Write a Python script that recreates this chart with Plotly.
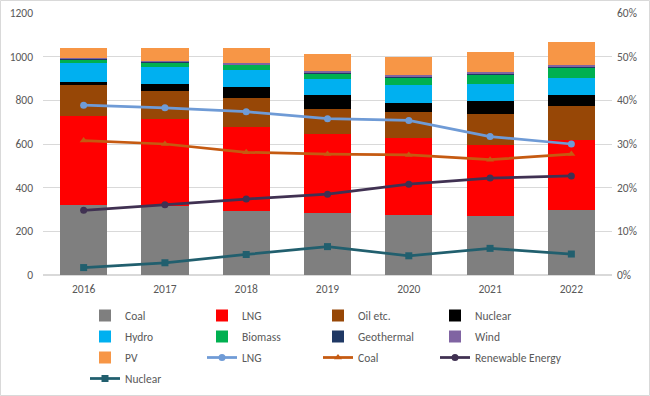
import plotly.graph_objects as go

years = ["2016", "2017", "2018", "2019", "2020", "2021", "2022"]

# Stacked generation values (bars, left axis)
coal = [321, 316, 295, 283, 275, 271, 298]
lng = [408, 399, 385, 364, 353, 325, 321]
oil = [139, 128, 130, 113, 120, 141, 156]
nuclear = [18, 30, 49, 64, 41, 61, 49]
hydro = [84, 78, 80, 75, 79, 79, 78]
biomass = [18, 23, 24, 26, 37, 42, 49]
geothermal = [2, 2, 2, 3, 3, 3, 3]
wind = [4, 5, 7, 8, 6, 9, 9]
pv = [46, 57, 66, 77, 85, 91, 104]

# Shares (lines, right axis)
share_lng = [0.389, 0.383, 0.374, 0.358, 0.354, 0.317, 0.300]
share_coal = [0.308, 0.300, 0.281, 0.277, 0.275, 0.264, 0.277]
share_ren = [0.148, 0.161, 0.174, 0.185, 0.208, 0.222, 0.227]
share_nuc = [0.017, 0.028, 0.047, 0.065, 0.044, 0.061, 0.048]

FONT = "Carlito, Calibri, Liberation Sans, Arial, sans-serif"
TXT = "#595959"
FS = 11.5

fig = go.Figure()

bars = [
    ("Coal", coal, "#7f7f7f", "legend"),
    ("LNG", lng, "#ff0000", "legend2"),
    ("Oil etc.", oil, "#974706", "legend3"),
    ("Nuclear", nuclear, "#000000", "legend4"),
    ("Hydro", hydro, "#00b0f0", "legend"),
    ("Biomass", biomass, "#00b050", "legend2"),
    ("Geothermal", geothermal, "#1f3864", "legend3"),
    ("Wind", wind, "#8064a2", "legend4"),
    ("PV", pv, "#f79646", "legend"),
]
for i, (name, vals, col, lg) in enumerate(bars):
    fig.add_trace(go.Bar(x=years, y=vals, name=name, marker_color=col,
                         marker_line_width=0, yaxis="y", legend=lg,
                         legendgroup="b%d" % i))

lines = [
    ("LNG", share_lng, "#6f9bd6", "circle", "legend2"),
    ("Coal", share_coal, "#c55a11", "triangle-up", "legend3"),
    ("Renewable Energy", share_ren, "#403152", "circle", "legend4"),
    ("Nuclear", share_nuc, "#215f6e", "square", "legend"),
]
for i, (name, vals, col, sym, lg) in enumerate(lines):
    fig.add_trace(go.Scatter(x=years, y=vals, name=name, yaxis="y2",
                             mode="lines+markers", legend=lg,
                             legendgroup="l%d" % i,
                             line=dict(color=col, width=2.75),
                             marker=dict(symbol=sym, size=7, color=col)))

L, R, T, B = 43, 38, 13, 121
W, H = 650, 396
pw = W - L - R
ph = H - T - B


def leg(px_left):
    return dict(orientation="v", traceorder="grouped", tracegroupgap=2,
                x=(px_left - L) / pw, y=(275 - 301) / ph,
                xanchor="left", yanchor="top",
                font=dict(family=FONT, size=FS, color=TXT),
                bgcolor="rgba(0,0,0,0)", borderwidth=0)


fig.update_layout(
    width=W, height=H,
    margin=dict(l=L, r=R, t=T, b=B, pad=0, autoexpand=False),
    barmode="stack",
    bargap=0.42,
    plot_bgcolor="white",
    paper_bgcolor="white",
    font=dict(family=FONT, size=FS, color=TXT),
    xaxis=dict(showgrid=False, showline=False, ticks="", automargin=False,
               ticklabelstandoff=5, tickfont=dict(size=FS, color=TXT)),
    yaxis=dict(range=[0, 1200], dtick=200, showgrid=True, gridcolor="#d9d9d9",
               gridwidth=1, zeroline=True, zerolinecolor="#d9d9d9", ticks="",
               showline=False, automargin=False, ticklabelstandoff=9,
               tickfont=dict(size=FS, color=TXT)),
    yaxis2=dict(range=[0, 0.6], dtick=0.1, tickformat=".0%", overlaying="y",
                side="right", showgrid=False, zeroline=False, ticks="",
                showline=False, automargin=False, ticklabelstandoff=4,
                tickfont=dict(size=FS, color=TXT)),
    legend=leg(85),
    legend2=leg(202),
    legend3=leg(318),
    legend4=leg(435),
    shapes=[dict(type="rect", xref="paper", yref="paper",
                 x0=(0.5 - L) / pw, x1=(649.5 - L) / pw,
                 y0=(275 - 395.5) / ph, y1=(275 - 0.5) / ph,
                 line=dict(color="#d9d9d9", width=1), fillcolor="rgba(0,0,0,0)",
                 layer="below")],
)

fig.write_html("out.html", config={"displayModeBar": False},
               post_script="document.body.style.margin='0';document.body.style.padding='0';")
